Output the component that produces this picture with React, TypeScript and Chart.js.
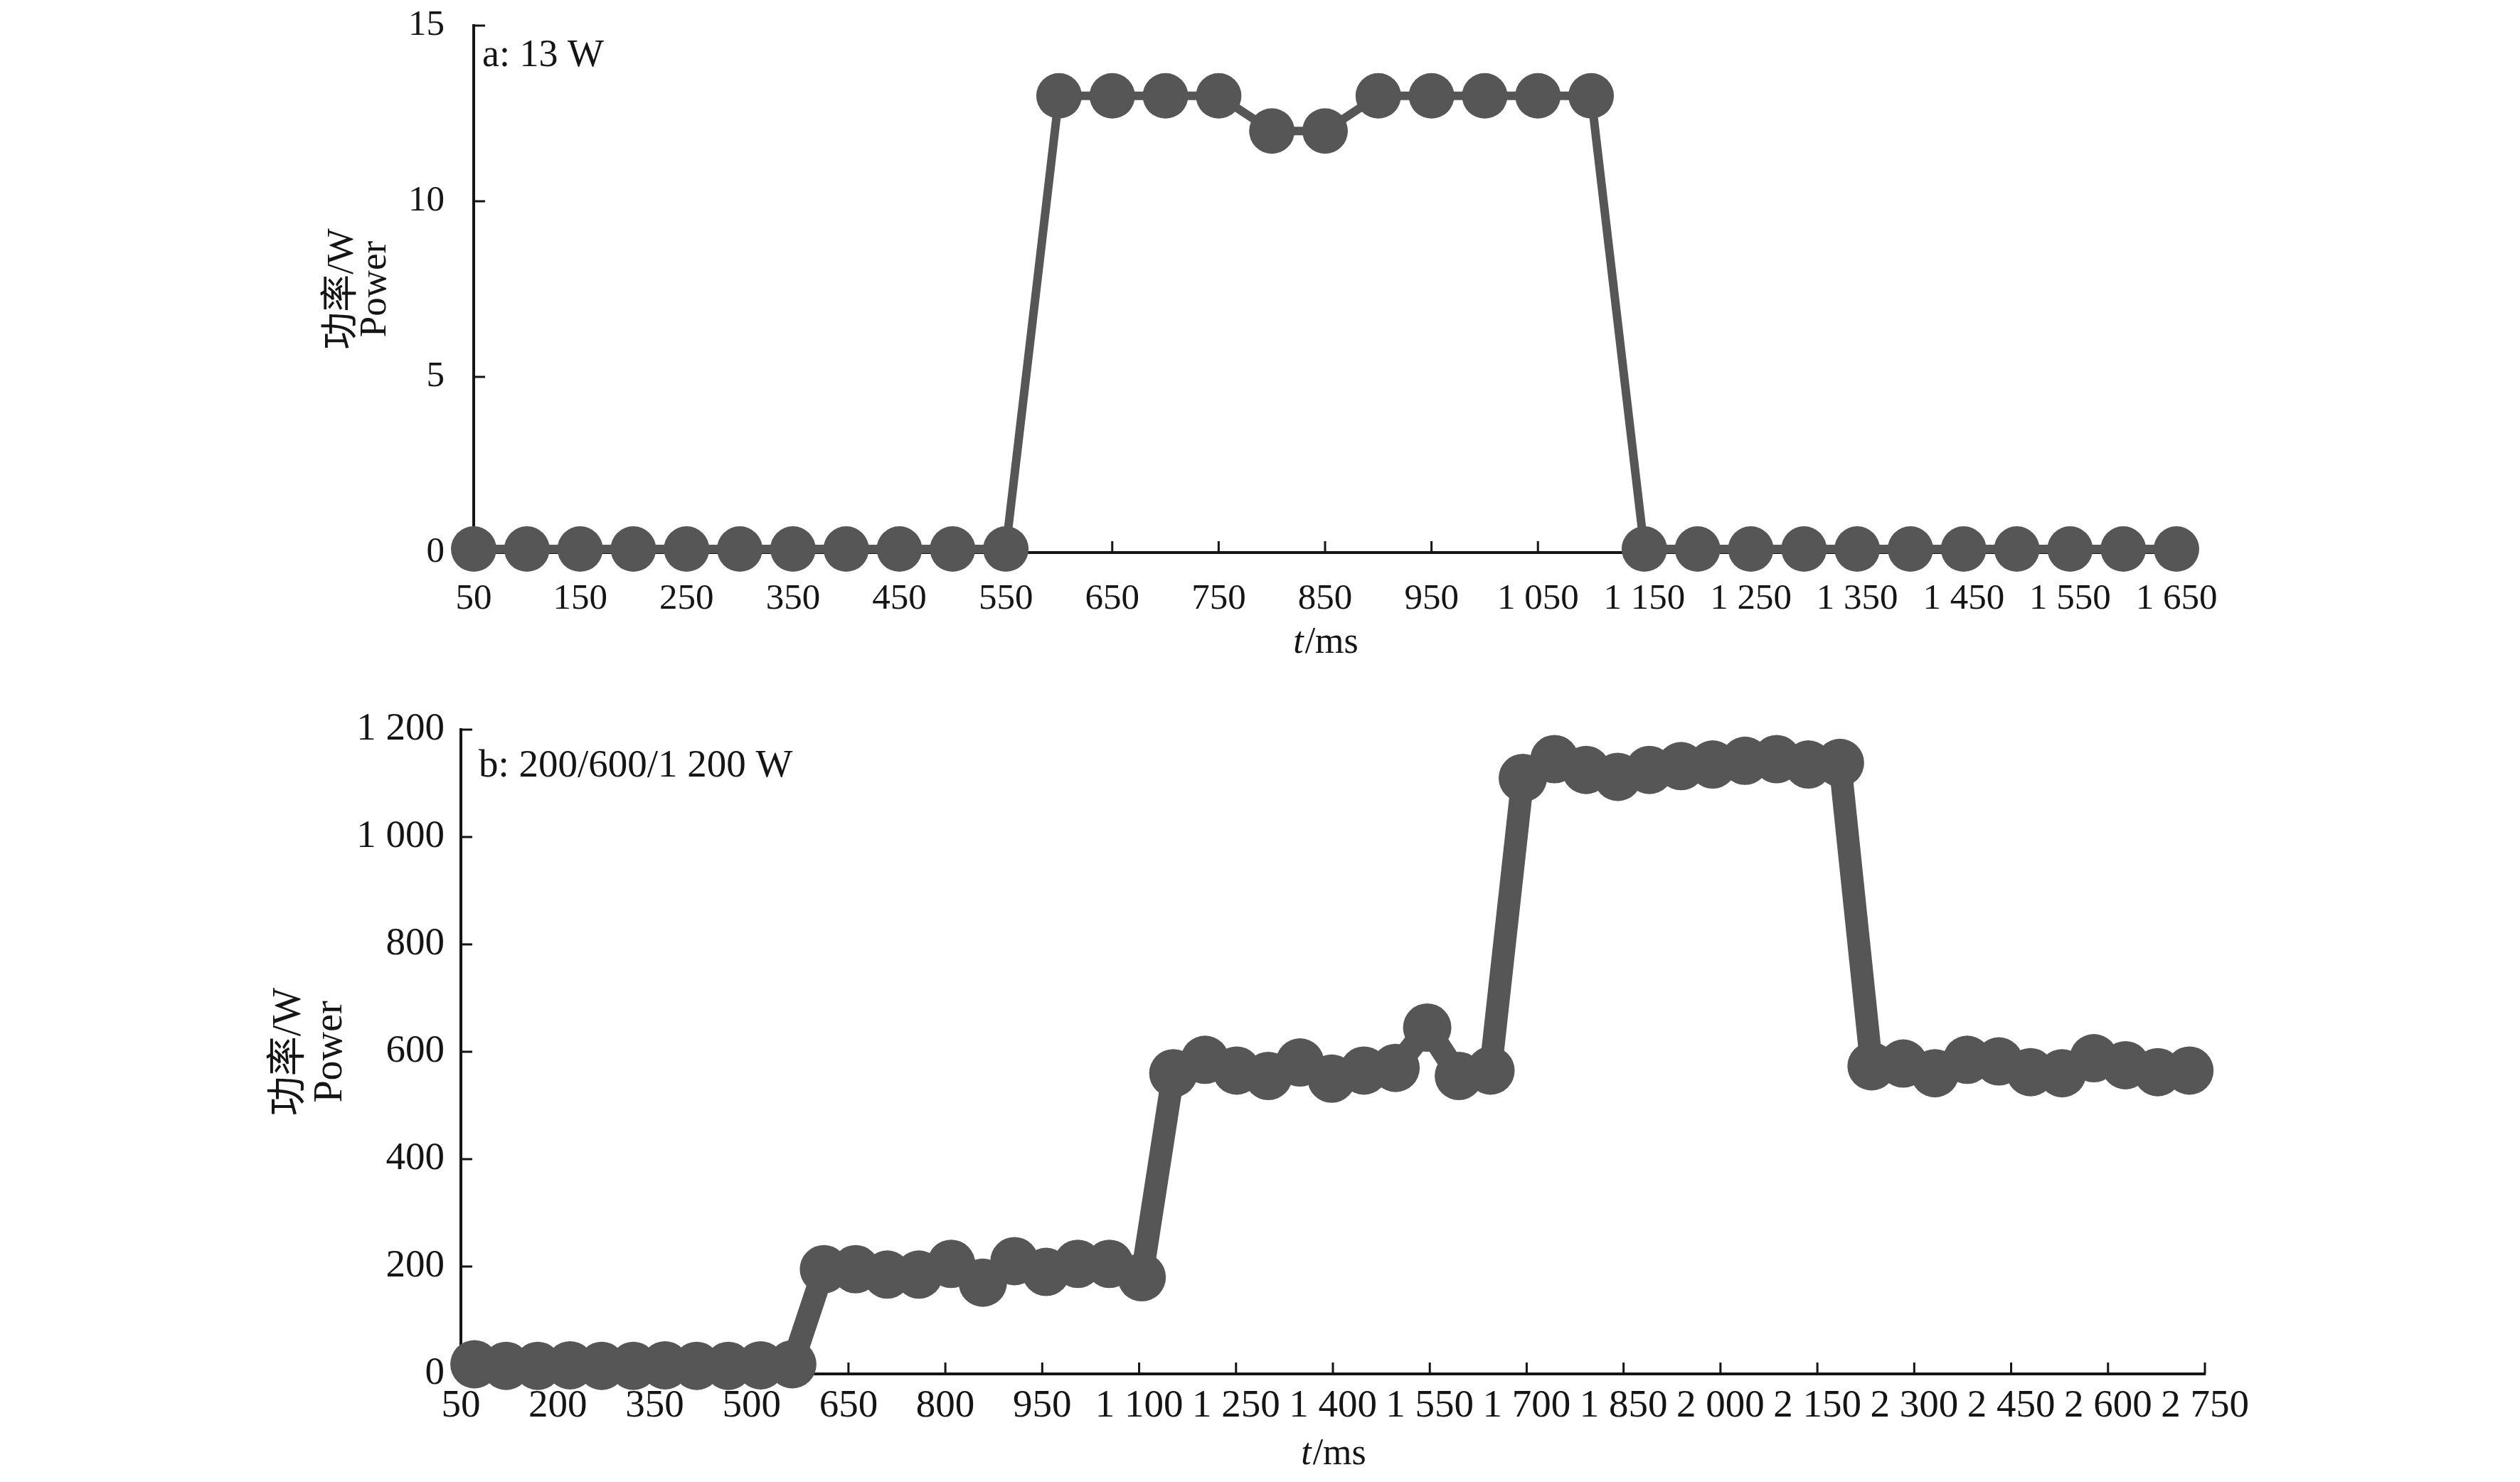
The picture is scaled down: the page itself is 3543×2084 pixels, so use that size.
import React, { useEffect, useRef } from 'react';
import { Chart, registerables } from 'chart.js';

Chart.register(...registerables);

const FONT = "'Liberation Serif', 'Times New Roman', 'Noto Sans CJK SC', serif";
const INK = '#151515';
const MARK = '#565656';

// ---------- panel a: 13 W ----------
const timeA = [50, 100, 150, 200, 250, 300, 350, 400, 450, 500, 550, 600, 650, 700, 750, 800, 850,
  900, 950, 1000, 1050, 1100, 1150, 1200, 1250, 1300, 1350, 1400, 1450, 1500, 1550, 1600, 1650];
const powerA = [0.1, 0.1, 0.1, 0.1, 0.1, 0.1, 0.1, 0.1, 0.1, 0.1, 0.1,
  13, 13, 13, 13, 12, 12, 13, 13, 13, 13, 13,
  0.1, 0.1, 0.1, 0.1, 0.1, 0.1, 0.1, 0.1, 0.1, 0.1, 0.1];
const xTicksA = [50, 150, 250, 350, 450, 550, 650, 750, 850, 950, 1050, 1150, 1250, 1350, 1450, 1550, 1650];
const yTicksA = [0, 5, 10, 15];

// ---------- panel b: 200/600/1 200 W ----------
const timeB = [71, 120, 169, 219, 268, 317, 366, 415, 464, 514, 563, 612, 661, 710, 759, 809, 858, 907,
  956, 1005, 1054, 1104, 1153, 1202, 1251, 1300, 1349, 1398, 1448, 1497, 1546, 1595, 1644, 1694, 1743,
  1792, 1841, 1890, 1939, 1988, 2038, 2087, 2136, 2185, 2234, 2283, 2332, 2382, 2431, 2480, 2529, 2578,
  2627, 2677, 2726];
const powerB = [18, 15, 15, 16, 15, 15, 16, 15, 15, 16, 18,
  195, 195, 185, 185, 205, 170, 210, 190, 205, 205, 180,
  560, 585, 565, 555, 580, 550, 565, 570, 645, 555, 565,
  1110, 1145, 1125, 1112, 1125, 1132, 1135, 1142, 1145, 1135, 1138,
  573, 578, 560, 585, 582, 562, 560, 588, 575, 562, 565];
const xTicksB = [50, 200, 350, 500, 650, 800, 950, 1100, 1250, 1400, 1550, 1700, 1850, 2000, 2150, 2300, 2450, 2600, 2750];
const yTicksB = [0, 200, 400, 600, 800, 1000, 1200];

const yTitle = ['功率/W', 'Power'];
const xVar = 't';
const xUnit = '/ms';

const fmt = (v: number) => String(v).replace(/\B(?=(\d{3})+(?!\d))/g, ' ');

const innerTicks = {
  id: 'innerTicks',
  beforeDatasetsDraw(chart: any, _a: any, opts: any) {
    const { ctx, chartArea } = chart;
    const xs = chart.scales.x;
    const ys = chart.scales.y;
    const len = opts.length;
    ctx.save();
    ctx.strokeStyle = INK;
    ctx.lineWidth = opts.width;
    ctx.beginPath();
    xs.ticks.forEach((t: any) => {
      const p = xs.getPixelForValue(t.value);
      ctx.moveTo(p, chartArea.bottom);
      ctx.lineTo(p, chartArea.bottom - len);
    });
    ys.ticks.forEach((t: any) => {
      const p = ys.getPixelForValue(t.value);
      ctx.moveTo(chartArea.left, p);
      ctx.lineTo(chartArea.left + len, p);
    });
    ctx.stroke();
    ctx.restore();
  },
};

const textMarks = {
  id: 'textMarks',
  afterDraw(chart: any, _a: any, opts: any) {
    const { ctx, chartArea } = chart;
    ctx.save();
    ctx.fillStyle = INK;
    ctx.textBaseline = 'alphabetic';
    ctx.textAlign = 'left';
    ctx.font = `${opts.panelSize}px ${FONT}`;
    ctx.fillText(opts.panel, chartArea.left + opts.panelDx, chartArea.top + opts.panelDy);
    const italic = `italic ${opts.size}px ${FONT}`;
    const normal = `${opts.size}px ${FONT}`;
    ctx.font = italic;
    const w1 = ctx.measureText(xVar).width;
    ctx.font = normal;
    const w2 = ctx.measureText(xUnit).width;
    const cx = (chartArea.left + chartArea.right) / 2;
    const x0 = cx - (w1 + w2) / 2;
    const y0 = chartArea.bottom + opts.xTitleDy;
    ctx.font = italic;
    ctx.fillText(xVar, x0, y0);
    ctx.font = normal;
    ctx.fillText(xUnit, x0 + w1 + 2, y0);
    ctx.restore();
  },
};

interface Spec {
  times: number[];
  values: number[];
  xTicks: number[];
  yTicks: number[];
  xMin: number;
  xMax: number;
  yMax: number;
  padding: { left: number; right: number; top: number; bottom: number };
  yWidth: number;
  xHeight: number;
  yTitleLH: number;
  yTitlePad: number;
  yTitleSize: number;
  yTickPad: number;
  xTickPad: number;
  tickSize: number;
  radius: number;
  lineWidth: number;
  panel: string;
  panelSize: number;
  panelDx: number;
  panelDy: number;
  xTitleDy: number;
}

function makeConfig(s: Spec): any {
  return {
    type: 'line',
    data: {
      datasets: [
        {
          data: s.times.map((t, i) => ({ x: t, y: s.values[i] })),
          borderColor: MARK,
          borderWidth: s.lineWidth,
          backgroundColor: MARK,
          pointBackgroundColor: MARK,
          pointBorderColor: MARK,
          pointBorderWidth: 0,
          pointRadius: s.radius,
          pointHoverRadius: s.radius,
          tension: 0,
          fill: false,
          clip: false,
        },
      ],
    },
    options: {
      animation: false,
      responsive: false,
      events: [],
      layout: { padding: s.padding },
      plugins: {
        legend: { display: false },
        tooltip: { enabled: false },
        innerTicks: { length: 16, width: 3 },
        textMarks: {
          size: 52,
          panelSize: s.panelSize,
          panel: s.panel,
          panelDx: s.panelDx,
          panelDy: s.panelDy,
          xTitleDy: s.xTitleDy,
        },
      },
      scales: {
        x: {
          type: 'linear',
          min: s.xMin,
          max: s.xMax,
          afterBuildTicks: (sc: any) => {
            sc.ticks = s.xTicks.map((v) => ({ value: v }));
          },
          afterFit: (sc: any) => {
            sc.height = s.xHeight;
            sc.paddingLeft = 10;
            sc.paddingRight = 10;
          },
          grid: { display: false, drawTicks: false },
          border: { display: true, color: INK, width: 4 },
          ticks: {
            autoSkip: false,
            maxRotation: 0,
            minRotation: 0,
            padding: s.xTickPad,
            color: INK,
            font: { family: FONT, size: s.tickSize },
            callback: (v: any) => fmt(Number(v)),
          },
        },
        y: {
          type: 'linear',
          min: 0,
          max: s.yMax,
          afterBuildTicks: (sc: any) => {
            sc.ticks = s.yTicks.map((v) => ({ value: v }));
          },
          afterFit: (sc: any) => {
            sc.width = s.yWidth;
            sc.paddingTop = 10;
            sc.paddingBottom = 10;
          },
          grid: { display: false, drawTicks: false },
          border: { display: true, color: INK, width: 4 },
          ticks: {
            padding: s.yTickPad,
            color: INK,
            font: { family: FONT, size: s.tickSize },
            callback: (v: any) => fmt(Number(v)),
          },
          title: {
            display: true,
            text: yTitle,
            color: INK,
            font: { family: FONT, size: s.yTitleSize, lineHeight: s.yTitleLH / s.yTitleSize },
            padding: { top: s.yTitlePad, bottom: 0 },
          },
        },
      },
    },
    plugins: [innerTicks, textMarks],
  };
}

const specA: Spec = {
  times: timeA,
  values: powerA,
  xTicks: xTicksA,
  yTicks: yTicksA,
  xMin: 50,
  xMax: 1650,
  yMax: 15,
  padding: { left: 300, right: 3543 - 3060, top: 36, bottom: 1000 - 777 - 150 },
  yWidth: 666 - 300,
  xHeight: 150,
  yTitleLH: 46,
  yTitlePad: 159,
  yTitleSize: 53,
  yTickPad: 41,
  xTickPad: 35,
  tickSize: 51,
  radius: 32,
  lineWidth: 12,
  panel: 'a: 13 W',
  panelSize: 54,
  panelDx: 12,
  panelDy: 57,
  xTitleDy: 141,
};

const specB: Spec = {
  times: timeB,
  values: powerB,
  xTicks: xTicksB,
  yTicks: yTicksB,
  xMin: 50,
  xMax: 2750,
  yMax: 1200,
  padding: { left: 300, right: 3543 - 3100, top: 1026 - 960, bottom: 1124 - (1932 - 960) - 130 },
  yWidth: 648 - 300,
  xHeight: 130,
  yTitleLH: 58,
  yTitlePad: 78,
  yTitleSize: 56,
  yTickPad: 23,
  xTickPad: 13,
  tickSize: 55,
  radius: 34,
  lineWidth: 32,
  panel: 'b: 200/600/1 200 W',
  panelSize: 55,
  panelDx: 25,
  panelDy: 66,
  xTitleDy: 127,
};

function Panel({ spec, top, height }: { spec: Spec; top: number; height: number }) {
  const ref = useRef<HTMLCanvasElement | null>(null);
  useEffect(() => {
    if (!ref.current) return;
    const chart = new Chart(ref.current, makeConfig(spec));
    return () => chart.destroy();
  }, [spec]);
  return (
    <canvas
      ref={ref}
      width={3543}
      height={height}
      style={{ position: 'absolute', left: 0, top, width: 3543, height }}
    />
  );
}

export default function App() {
  return (
    <div style={{ position: 'absolute', left: 0, top: 0, width: 3543, height: 2084, background: '#fff', overflow: 'hidden' }}>
      <Panel spec={specA} top={0} height={1000} />
      <Panel spec={specB} top={960} height={1124} />
    </div>
  );
}
